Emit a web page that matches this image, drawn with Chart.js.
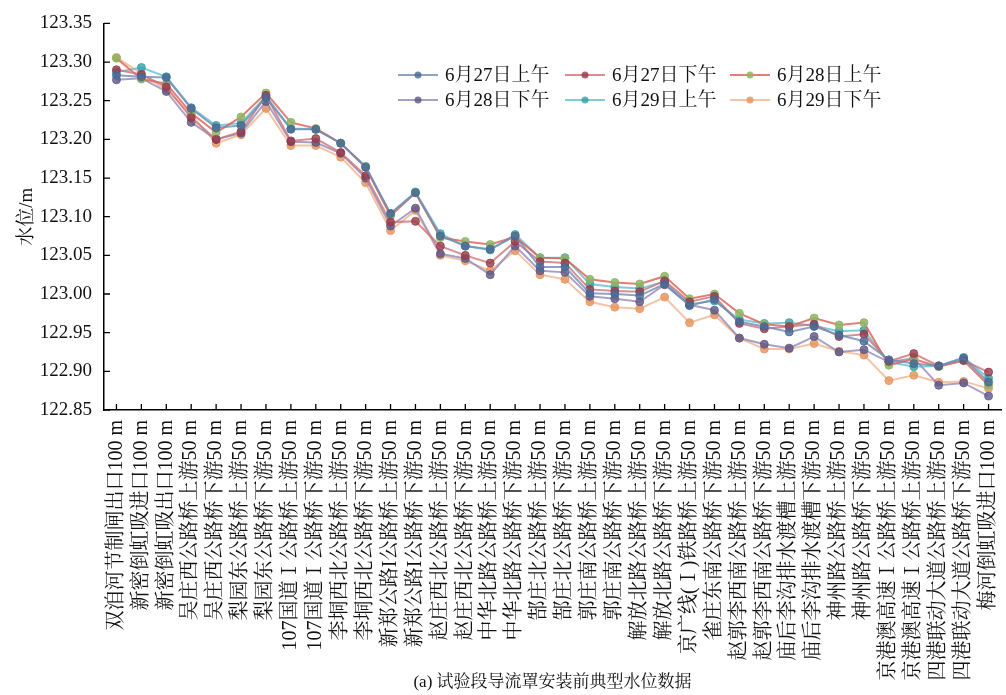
<!DOCTYPE html>
<html><head><meta charset="utf-8">
<script src="https://cdn.jsdelivr.net/npm/chart.js@4.4.0/dist/chart.umd.min.js"></script>
<style>html,body{margin:0;padding:0;background:#fff}</style>
</head><body>
<canvas id="c" width="1006" height="695"></canvas>
<script>
const categories = [
 '双洎河节制闸出口100 m','新密倒虹吸进口100 m','新密倒虹吸出口100 m',
 '吴庄西公路桥上游50 m','吴庄西公路桥下游50 m','梨园东公路桥上游50 m','梨园东公路桥下游50 m',
 '107国道Ⅰ公路桥上游50 m','107国道Ⅰ公路桥下游50 m','李垌西北公路桥上游50 m','李垌西北公路桥下游50 m',
 '新郑公路I公路桥上游50 m','新郑公路I公路桥下游50 m','赵庄西北公路桥上游50 m','赵庄西北公路桥下游50 m',
 '中华北路公路桥上游50 m','中华北路公路桥下游50 m','郜庄北公路桥上游50 m','郜庄北公路桥下游50 m',
 '郭庄南公路桥上游50 m','郭庄南公路桥下游50 m','解放北路公路桥上游50 m','解放北路公路桥下游50 m',
 '京广线(Ⅰ)铁路桥上游50 m','雀庄东南公路桥下游50 m','赵郭李西南公路桥上游50 m','赵郭李西南公路桥下游50 m',
 '庙后李沟排水渡槽上游50 m','庙后李沟排水渡槽下游50 m','神州路公路桥上游50 m','神州路公路桥下游50 m',
 '京港澳高速Ⅰ公路桥上游50 m','京港澳高速Ⅰ公路桥上游50 m','四港联动大道公路桥上游50 m','四港联动大道公路桥下游50 m',
 '梅河倒虹吸进口100 m'
];
const seriesNames = ['6月27日上午','6月27日下午','6月28日上午','6月28日下午','6月29日上午','6月29日下午'];
const jun27am = [123.283,123.281,123.280,123.240,123.215,123.218,123.254,123.213,123.213,123.195,123.164,123.104,123.131,123.075,123.062,123.058,123.075,123.035,123.035,123.001,123.000,122.998,123.013,122.985,122.993,122.964,122.958,122.951,122.958,122.947,122.939,122.915,122.910,122.907,122.917,122.886];
const jun27pm = [123.290,123.284,123.268,123.228,123.200,123.210,123.257,123.198,123.201,123.183,123.153,123.093,123.094,123.062,123.050,123.040,123.068,123.042,123.040,123.006,123.004,123.003,123.017,122.990,122.997,122.962,122.955,122.958,122.961,122.945,122.948,122.913,122.923,122.907,122.914,122.899];
const jun28am = [123.305,123.278,123.272,123.234,123.209,123.229,123.260,123.222,123.214,123.195,123.164,123.101,123.131,123.073,123.068,123.064,123.074,123.047,123.046,123.019,123.015,123.013,123.023,122.994,123.000,122.975,122.961,122.958,122.969,122.960,122.963,122.908,122.916,122.906,122.914,122.882];
const jun28pm = [123.277,123.279,123.262,123.222,123.200,123.208,123.249,123.197,123.196,123.182,123.150,123.088,123.111,123.052,123.046,123.025,123.062,123.030,123.028,122.997,122.994,122.990,123.012,122.986,122.979,122.943,122.935,122.930,122.945,122.925,122.928,122.912,122.917,122.882,122.885,122.868];
const jun29am = [123.287,123.293,123.281,123.241,123.218,123.221,123.256,123.214,123.213,123.195,123.165,123.104,123.132,123.078,123.062,123.057,123.077,123.047,123.047,123.013,123.009,123.007,123.016,122.987,122.991,122.967,122.962,122.963,122.959,122.952,122.953,122.912,122.906,122.907,122.918,122.891];
const jun29pm = [123.306,123.285,123.264,123.232,123.195,123.206,123.240,123.192,123.192,123.177,123.144,123.082,123.108,123.050,123.043,123.030,123.056,123.025,123.019,122.990,122.983,122.981,122.996,122.963,122.973,122.943,122.929,122.929,122.936,122.926,122.921,122.888,122.895,122.886,122.887,122.878];
const seriesValues = [jun27am, jun27pm, jun28am, jun28pm, jun29am, jun29pm];
const yTickLabels = ['122.85','122.90','122.95','123.00','123.05','123.10','123.15','123.20','123.25','123.30','123.35'];

const lineColors = ['rgba(112,140,180,0.8)','rgba(205,115,120,0.8)','rgba(222,92,82,0.8)','rgba(148,138,182,0.8)','rgba(100,190,205,0.8)','rgba(242,185,150,0.85)'];
const dotColors  = ['rgba(72,104,148,0.8)','rgba(150,58,75,0.8)','rgba(140,182,100,0.85)','rgba(92,86,134,0.8)','rgba(52,160,168,0.8)','rgba(232,150,98,0.85)'];

const FONT = "'Liberation Serif','Times New Roman','Noto Serif CJK SC','Noto Sans CJK SC',serif";

const inwardTicks = {
  id: 'inwardTicks',
  afterDraw(chart) {
    const ctx = chart.ctx, a = chart.chartArea;
    const xs = chart.scales.x, ys = chart.scales.y;
    ctx.save();
    ctx.strokeStyle = '#000'; ctx.lineWidth = 1.3;
    ctx.beginPath();
    ys.ticks.forEach((t, i) => { const y = ys.getPixelForTick(i); ctx.moveTo(a.left, y); ctx.lineTo(a.left + 6, y); });
    xs.ticks.forEach((t, i) => { const x = xs.getPixelForTick(i); ctx.moveTo(x, a.bottom); ctx.lineTo(x, a.bottom - 6); });
    ctx.stroke();
    ctx.restore();
  }
};

const customLegend = {
  id: 'customLegend',
  afterDraw(chart) {
    const ctx = chart.ctx;
    const colX = [398, 565, 730], rowY = [75, 100];
    ctx.save();
    ctx.font = "19px " + FONT;
    ctx.textBaseline = 'middle';
    ctx.textAlign = 'left';
    chart.data.datasets.forEach((ds, i) => {
      const x = colX[i % 3], y = rowY[Math.floor(i / 3)];
      ctx.strokeStyle = ds.borderColor; ctx.lineWidth = 2;
      ctx.beginPath(); ctx.moveTo(x, y); ctx.lineTo(x + 40, y); ctx.stroke();
      ctx.fillStyle = ds.pointBackgroundColor;
      ctx.beginPath(); ctx.arc(x + 20, y, 3.5, 0, Math.PI * 2); ctx.fill();
      ctx.fillStyle = '#111';
      ctx.fillText(ds.label, x + 47, y + 1);
    });
    ctx.restore();
  }
};

new Chart(document.getElementById('c'), {
  type: 'line',
  data: {
    labels: categories,
    datasets: seriesValues.map((vals, i) => ({
      label: seriesNames[i],
      data: vals,
      borderColor: lineColors[i],
      backgroundColor: dotColors[i],
      pointBackgroundColor: dotColors[i],
      pointBorderColor: dotColors[i],
      pointRadius: 4,
      pointBorderWidth: 1,
      borderWidth: 2,
      tension: 0,
      fill: false
    }))
  },
  options: {
    responsive: false,
    animation: false,
    devicePixelRatio: 1,
    layout: { padding: { left: 10, top: 18, right: 3, bottom: 0 } },
    plugins: { legend: { display: false }, tooltip: { enabled: false } },
    scales: {
      x: {
        offset: true,
        grid: { display: false, drawTicks: false },
        border: { display: true, color: '#000', width: 1.5 },
        ticks: { autoSkip: false, minRotation: 90, maxRotation: 90, padding: 10, color: '#111', font: { family: FONT, size: 20 } },
        title: { display: true, text: '(a) 试验段导流罩安装前典型水位数据', color: '#111', font: { family: FONT, size: 17 }, padding: { top: 4, bottom: 2 } },
        afterFit(s) { s.height = 285; s.paddingLeft = 0; s.paddingRight = 0; }
      },
      y: {
        min: 122.85, max: 123.35,
        grid: { display: false, drawTicks: false },
        border: { display: true, color: '#000', width: 1.5 },
        ticks: { stepSize: 0.05, padding: 12, color: '#111', font: { family: FONT, size: 19 },
          callback: (v, i) => yTickLabels[i] },
        title: { display: true, text: '水位/m', color: '#111', font: { family: FONT, size: 19 }, padding: { top: 6, bottom: 0 } },
        afterFit(s) { s.width = 94; }
      }
    }
  },
  plugins: [inwardTicks, customLegend]
});
</script>
</body></html>
